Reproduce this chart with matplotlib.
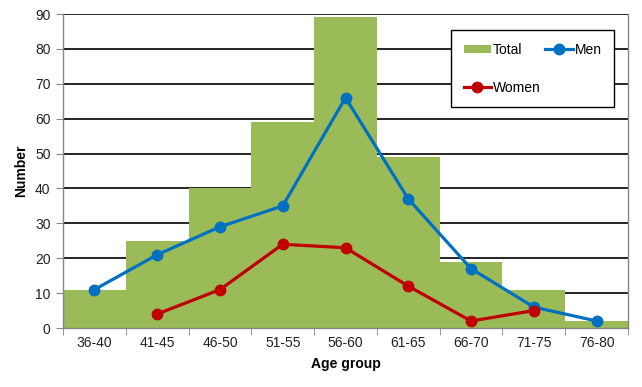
import matplotlib
matplotlib.use("Agg")
import matplotlib.pyplot as plt
import numpy as np

categories = ["36-40", "41-45", "46-50", "51-55", "56-60", "61-65", "66-70", "71-75", "76-80"]
total = [11, 25, 40, 59, 89, 49, 19, 11, 2]
men = [11, 21, 29, 35, 66, 37, 17, 6, 2]
women = [np.nan, 4, 11, 24, 23, 12, 2, 5, np.nan]
yticks = [0, 10, 20, 30, 40, 50, 60, 70, 80, 90]

plt.rcParams['font.family'] = ['Liberation Sans', 'DejaVu Sans']

fig = plt.figure(figsize=(6.42, 3.87), dpi=100)
ax = fig.add_axes([63/642, 1-328/387, (628-63)/642, (328-14)/387])

x = np.arange(len(categories))
ax.bar(x, total, width=1.0, color="#9BBB59", linewidth=0, label="Total", zorder=2)
ax.plot(x, men, color="#0070C0", lw=2.3, marker="o", ms=7.5, label="Men", zorder=3)
ax.plot(x, women, color="#C00000", lw=2.3, marker="o", ms=7.5, label="Women", zorder=3)

ax.set_xlim(-0.5, len(categories) - 0.5)
ax.set_ylim(0, 90)
ax.set_yticks(yticks)
ax.set_yticklabels([str(v) for v in yticks], fontsize=10, color="#222222")
ax.set_xticks(x)
ax.set_xticklabels(categories, fontsize=10, color="#222222")
ax.tick_params(axis="x", which="major", length=0, pad=6)
ax.set_xticks(np.arange(-0.5, len(categories)), minor=True)
ax.tick_params(axis="x", which="minor", length=5, color="#868686", direction="out")
ax.tick_params(axis="y", length=5, color="#868686", direction="out", pad=4)

ax.yaxis.grid(True, color="black", lw=1.2, zorder=1)
ax.set_axisbelow(True)
ax.spines["top"].set_visible(False)
for s in ["left", "bottom", "right"]:
    ax.spines[s].set_color("#868686")
    ax.spines[s].set_linewidth(1.0)

ax.set_xlabel("Age group", fontsize=10, fontweight="bold", labelpad=5)
ax.set_ylabel("Number", fontsize=10, fontweight="bold", labelpad=5)

handles, labels = ax.get_legend_handles_labels()
hd = dict(zip(labels, handles))
leg = ax.legend([hd["Total"], hd["Women"], hd["Men"]], ["Total", "Women", "Men"],
                ncol=2, loc="upper left",
                bbox_to_anchor=(451/642, 1-30/387, (614-451)/642, 0),
                bbox_transform=fig.transFigure, mode="expand",
                fontsize=10, frameon=True, fancybox=False, edgecolor="black",
                framealpha=1, labelspacing=1.75, handlelength=2.0, handletextpad=0.1,
                borderpad=0.9, borderaxespad=0, columnspacing=0.5,
                handleheight=0.5)
leg.get_frame().set_linewidth(1.0)

fig.savefig("out.png", dpi=100)
